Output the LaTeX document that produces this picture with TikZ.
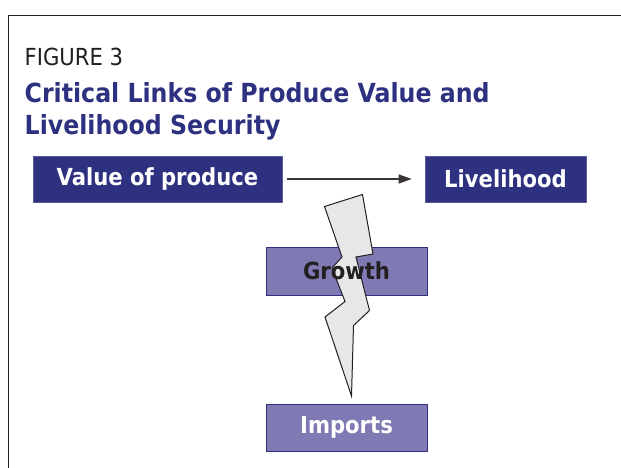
\documentclass[tikz,border=0pt]{standalone}
\usepackage{fontspec}
\setmainfont{DejaVu Sans Condensed}
\usetikzlibrary{arrows.meta}
\definecolor{navy}{RGB}{46,48,128}
\definecolor{lilac}{RGB}{127,121,180}
\definecolor{bolt}{RGB}{230,231,232}
\definecolor{ink}{RGB}{35,31,32}
\tikzset{
  darkbox/.style={fill=navy, draw=navy!80!white, line width=0.6pt, inner sep=0pt,
    text=white, font=\fontsize{23.5}{28}\selectfont\bfseries},
  lightbox/.style={fill=lilac, draw=navy, line width=0.9pt, inner sep=0pt,
    font=\fontsize{23.5}{28}\selectfont\bfseries},
  link/.style={draw=ink!90, line width=1.2pt, -{Triangle[length=13pt,width=9pt]}},
}
\begin{document}
\begin{tikzpicture}[x=1pt,y=-1pt]
\useasboundingbox (0,0) rectangle (621,468);
% outer frame (top and left edges)
\draw[ink, line width=1.5pt] (625,15.5) -- (8.5,15.5) -- (8.5,472);

% heading
\node[anchor=base west, inner sep=0pt, text=ink, font=\fontsize{23.5}{28}\selectfont] (fig) at (24.5,65.3) {FIGURE 3};
\node[anchor=base west, inner sep=0pt, text=navy, font=\fontsize{26.3}{30}\selectfont\bfseries] (title1) at (24.5,102.2) {Critical Links of Produce Value and};
\node[anchor=base west, inner sep=0pt, text=navy, font=\fontsize{26.3}{30}\selectfont\bfseries] (title2) at (24.5,134.6) {Livelihood Security};

% boxes
\node[darkbox, minimum width=249pt, minimum height=46pt] (value) at (157.5,179) {Value of produce};
\node[darkbox, minimum width=161pt, minimum height=46pt] (live) at (505.5,179) {Livelihood};
\node[lightbox, minimum width=161pt, minimum height=48pt] (growth) at (346.5,271) {};
\node[lightbox, minimum width=161pt, minimum height=47pt, text=white] (imports) at (346.5,427.5) {Imports};

% link between produce value and livelihood
\draw[link, shorten <=5pt, shorten >=13pt] (value.east) -- (live.west);

% lightning bolt breaking the link
\draw[fill=bolt, draw=ink, line width=1pt, line join=miter]
  (324.5,206.5) -- (362.5,194.5) -- (373,254) -- (356,257) -- (369.5,310.5)
  -- (353.5,325.5) -- (351.5,396) -- (325,317) -- (345,301.5) -- (332,268)
  -- (342,257) -- cycle;

% label above the bolt
\node[inner sep=0pt, text=ink, font=\fontsize{23.5}{28}\selectfont\bfseries] (growthtext) at (growth) {Growth};
\end{tikzpicture}
\end{document}
